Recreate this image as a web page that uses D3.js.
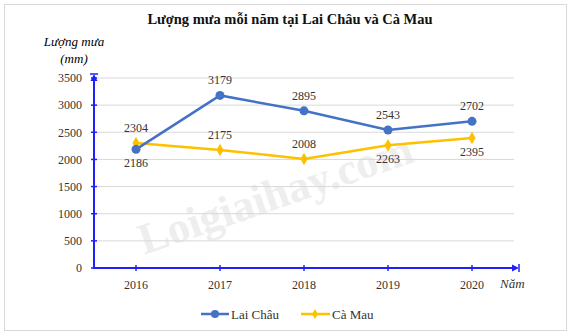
<!DOCTYPE html>
<html><head><meta charset="utf-8">
<script src="https://cdn.jsdelivr.net/npm/d3@7"></script>
<style>body{margin:0;background:#fff;} svg{display:block;}</style>
</head><body>
<script>
const years = ["2016","2017","2018","2019","2020"];
const laiChau = [2186, 3179, 2895, 2543, 2702];
const caMau = [2304, 2175, 2008, 2263, 2395];
const yTicks = [0,500,1000,1500,2000,2500,3000,3500];
const laiChauLabelPos = ["below","above","above","above","above"];
const caMauLabelPos = ["above","above","above","below","below"];

const W=580,H=336;
const svg=d3.select("body").append("svg").attr("width",W).attr("height",H);
const serif="'Liberation Serif','Times New Roman',serif";
svg.append("rect").attr("x",4.5).attr("y",4.5).attr("width",562).attr("height",326).attr("fill","#fff").attr("stroke","#d9d9d9");

const x=d3.scaleBand().domain(years).range([94,514]);
const y=d3.scaleLinear().domain([0,3500]).range([268,78]);

// watermark
svg.append("text").attr("transform","translate(280,208) rotate(-19)").attr("text-anchor","middle")
 .attr("font-family",serif).attr("font-weight","bold").attr("font-size",44).attr("fill","#eeeeee").text("Loigiaihay.com");

// gridlines
svg.append("g").selectAll("line").data(yTicks.filter(d=>d>0)).join("line")
 .attr("x1",94).attr("x2",514).attr("y1",d=>y(d)).attr("y2",d=>y(d)).attr("stroke","#d9d9d9").attr("stroke-width",1);

// title
svg.append("text").attr("x",290).attr("y",24).attr("text-anchor","middle").attr("font-family",serif)
 .attr("font-weight","bold").attr("font-size",14.5).attr("fill","#111").text("Lượng mưa mỗi năm tại Lai Châu và Cà Mau");
svg.append("text").attr("x",74).attr("y",46).attr("text-anchor","middle").attr("font-family",serif)
 .attr("font-style","italic").attr("font-size",13).text("Lượng mưa");
svg.append("text").attr("x",74).attr("y",63).attr("text-anchor","middle").attr("font-family",serif)
 .attr("font-style","italic").attr("font-size",13).text("(mm)");

// y axis
const axisColor="#2020ff";
const ya=svg.append("g").attr("transform","translate(94,0)").call(d3.axisLeft(y).tickValues(yTicks).tickFormat(d3.format("d")).tickSize(0).tickPadding(12));
ya.select(".domain").remove();
ya.selectAll("text").attr("font-family",serif).attr("font-size",12).attr("fill","#333");
svg.append("line").attr("x1",94).attr("x2",94).attr("y1",y(0)).attr("y2",y(3500)-2).attr("stroke",axisColor).attr("stroke-width",2);
svg.append("g").selectAll("line").data(yTicks).join("line").attr("x1",91).attr("x2",97).attr("y1",d=>y(d)).attr("y2",d=>y(d)).attr("stroke",axisColor).attr("stroke-width",1.5);
svg.append("path").attr("d",`M94,${y(3500)-4} l-3.5,7 h7 z`).attr("fill",axisColor);
svg.append("line").attr("x1",90).attr("x2",98).attr("y1",y(3500)-4).attr("y2",y(3500)-4).attr("stroke",axisColor).attr("stroke-width",1.5);

// x axis
const xa=svg.append("g").attr("transform",`translate(0,${y(0)})`).call(d3.axisBottom(x).tickSize(0).tickPadding(12));
xa.select(".domain").remove();
xa.selectAll("text").attr("font-family",serif).attr("font-size",12).attr("fill","#333");
svg.append("line").attr("x1",93).attr("x2",516).attr("y1",y(0)).attr("y2",y(0)).attr("stroke",axisColor).attr("stroke-width",2);
svg.append("g").selectAll("line").data(years).join("line").attr("x1",d=>x(d)+x.bandwidth()/2).attr("x2",d=>x(d)+x.bandwidth()/2).attr("y1",y(0)-3).attr("y2",y(0)+3).attr("stroke",axisColor).attr("stroke-width",1.5);
svg.append("path").attr("d",`M519,${y(0)} l-7,-3.5 v7 z`).attr("fill",axisColor);
svg.append("line").attr("x1",519).attr("x2",519).attr("y1",y(0)-4).attr("y2",y(0)+4).attr("stroke",axisColor).attr("stroke-width",1.5);
svg.append("text").attr("x",500).attr("y",288).attr("font-family",serif).attr("font-style","italic").attr("font-size",13).attr("fill","#333").text("Năm");

const cx=d=>x(d)+x.bandwidth()/2;
const line=d3.line().x(d=>cx(d.year)).y(d=>y(d.v));
function series(vals,color,marker,pos){
  const data=years.map((yr,i)=>({year:yr,v:vals[i],p:pos[i]}));
  svg.append("path").datum(data).attr("d",line).attr("fill","none").attr("stroke",color).attr("stroke-width",2.5);
  const g=svg.append("g");
  if(marker==="circle") g.selectAll("circle").data(data).join("circle").attr("cx",d=>cx(d.year)).attr("cy",d=>y(d.v)).attr("r",4.5).attr("fill",color);
  else g.selectAll("path").data(data).join("path").attr("d",d3.symbol(d3.symbolDiamond,45)).attr("transform",d=>`translate(${cx(d.year)},${y(d.v)})`).attr("fill",color);
  svg.append("g").selectAll("text").data(data).join("text").attr("x",d=>cx(d.year)).attr("y",d=>d.p==="above"?y(d.v)-11:y(d.v)+18)
   .attr("text-anchor","middle").attr("font-family",serif).attr("font-size",12).attr("fill","#333").text(d=>d.v);
}
series(caMau,"#FFC000","diamond",caMauLabelPos);
series(laiChau,"#4472C4","circle",laiChauLabelPos);

// legend
const lg=svg.append("g");
lg.append("line").attr("x1",201).attr("x2",229).attr("y1",314).attr("y2",314).attr("stroke","#4472C4").attr("stroke-width",2.5);
lg.append("circle").attr("cx",215).attr("cy",314).attr("r",4).attr("fill","#4472C4");
lg.append("text").attr("x",231).attr("y",318.5).attr("font-family",serif).attr("font-size",13).attr("fill","#333").text("Lai Châu");
lg.append("line").attr("x1",301).attr("x2",330).attr("y1",314).attr("y2",314).attr("stroke","#FFC000").attr("stroke-width",2.5);
lg.append("path").attr("d",d3.symbol(d3.symbolDiamond,30)).attr("transform","translate(315,314)").attr("fill","#FFC000");
lg.append("text").attr("x",332).attr("y",318.5).attr("font-family",serif).attr("font-size",13).attr("fill","#333").text("Cà Mau");
</script>
</body></html>
